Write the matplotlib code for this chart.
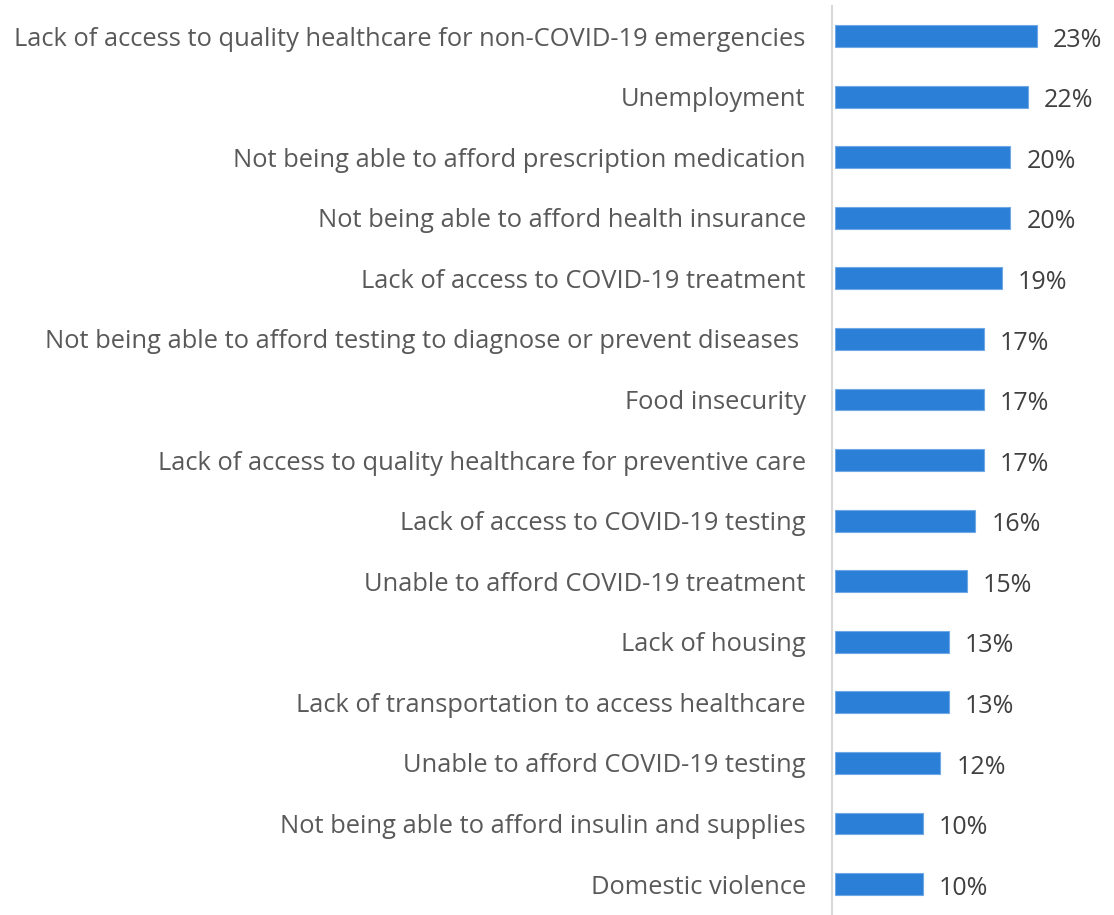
import matplotlib.pyplot as plt

labels = [
    "Lack of access to quality healthcare for non-COVID-19 emergencies",
    "Unemployment",
    "Not being able to afford prescription medication",
    "Not being able to afford health insurance",
    "Lack of access to COVID-19 treatment",
    "Not being able to afford testing to diagnose or prevent diseases ",
    "Food insecurity",
    "Lack of access to quality healthcare for preventive care",
    "Lack of access to COVID-19 testing",
    "Unable to afford COVID-19 treatment",
    "Lack of housing",
    "Lack of transportation to access healthcare",
    "Unable to afford COVID-19 testing",
    "Not being able to afford insulin and supplies",
    "Domestic violence",
]
values = [23, 22, 20, 20, 19, 17, 17, 17, 16, 15, 13, 13, 12, 10, 10]

plt.rcParams['font.family'] = ['Open Sans', 'DejaVu Sans']

fig = plt.figure(figsize=(11.14, 9.15), dpi=100)
ax = fig.add_axes([835 / 1114, 0.6 / 915, 272 / 1114, 908.6 / 915])

pos = list(range(len(values)))
ax.barh(pos, values, height=0.36, color='#2B7FD6', edgecolor='#6FA8E6', linewidth=0.8)
ax.set_ylim(len(values) - 0.5, -0.5)
ax.set_xlim(0, 31)

ax.set_yticks(pos)
ax.set_yticklabels(labels)
ax.tick_params(axis='y', length=0, pad=19, labelsize=18.4, labelcolor='#595959')
ax.set_xticks([])

for s in ['top', 'right', 'bottom']:
    ax.spines[s].set_visible(False)
ax.spines['left'].set_color('#D9D9D9')
ax.spines['left'].set_linewidth(1.5)
ax.spines['left'].set_position(('outward', 2))

for p, v in zip(pos, values):
    ax.annotate(f"{v}%", (v, p), xytext=(11.5, -3), textcoords='offset points',
                va='center', ha='left', fontsize=18, color='#404040')

fig.savefig('out.png', dpi=100)
